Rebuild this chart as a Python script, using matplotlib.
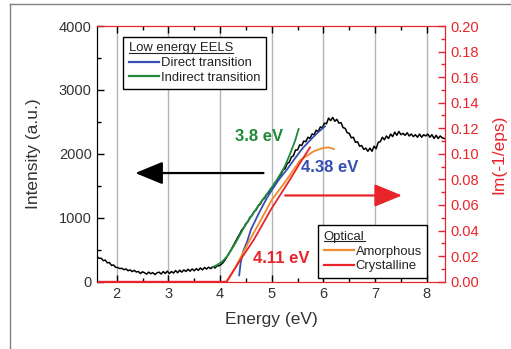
import numpy as np
import matplotlib
matplotlib.use("Agg")
import matplotlib.pyplot as plt
from matplotlib.lines import Line2D

plt.rcParams['font.family'] = ['Liberation Sans', 'DejaVu Sans']

# low-loss EELS spectrum, 0.04 eV steps from 1.62 eV
eels_start, eels_step = 1.62, 0.04
eels_counts = [
    395, 365, 368, 330, 338, 295, 300, 255, 262, 225,
    222, 205, 210, 188, 200, 172, 185, 158, 178, 152,
    160, 128, 155, 140, 118, 150, 125, 142, 112, 138,
    150, 120, 158, 130, 165, 128, 160, 135, 175, 140,
    180, 150, 185, 160, 195, 165, 200, 170, 205, 178,
    215, 185, 222, 198, 228, 205, 235, 215, 245, 250,
    270, 300, 345, 400, 455, 510, 570, 630, 690, 745,
    810, 845, 910, 940, 1010, 1035, 1100, 1125, 1190, 1215,
    1280, 1305, 1365, 1390, 1455, 1480, 1550, 1575, 1640, 1680,
    1750, 1770, 1850, 1870, 1950, 1970, 2060, 2060, 2140, 2130,
    2200, 2190, 2260, 2240, 2310, 2300, 2370, 2350, 2420, 2410,
    2480, 2470, 2560, 2520, 2570, 2510, 2540, 2480, 2490, 2410,
    2400, 2330, 2320, 2250, 2260, 2180, 2190, 2120, 2130, 2070,
    2090, 2040, 2090, 2040, 2120, 2080, 2180, 2190, 2260, 2220,
    2280, 2240, 2310, 2270, 2340, 2290, 2350, 2300, 2320, 2290,
    2330, 2280, 2310, 2270, 2300, 2260, 2310, 2260, 2300, 2280,
    2310, 2260, 2300, 2240, 2290, 2240, 2280, 2250, 2240,
]

# fits to the EELS onset
indirect_e = [3.86, 3.95, 4.05, 4.15, 4.25, 4.35, 4.45, 4.55, 4.65, 4.75,
              4.85, 4.95, 5.05, 5.15, 5.25, 5.35, 5.45, 5.52]
indirect_i = [230, 265, 320, 410, 540, 680, 830, 960, 1080, 1195,
              1310, 1420, 1530, 1660, 1800, 1990, 2200, 2390]
direct_e = [4.37, 4.40, 4.45, 4.52, 4.60, 4.75, 4.90, 5.00, 5.15, 5.30,
            5.45, 5.60, 5.75, 5.90, 6.03]
direct_i = [100, 300, 480, 620, 820, 1070, 1300, 1430, 1610, 1760,
            1930, 2090, 2220, 2340, 2430]

# optical loss function Im(-1/eps)
amorph_e = [4.12, 4.30, 4.58, 4.80, 5.00, 5.26, 5.55, 5.81, 6.00, 6.10, 6.20]
amorph_l = [0.0, 0.0115, 0.033, 0.049, 0.064, 0.078, 0.095, 0.102, 0.1047, 0.105, 0.1038]
cryst_e = [1.62, 4.13, 4.40, 4.65, 5.00, 5.32, 5.55, 5.74]
cryst_l = [0.0, 0.0, 0.0175, 0.0326, 0.0575, 0.0778, 0.093, 0.105]

blue = '#3550b0'
green = '#1f8a3a'
orange = '#f28a2a'
red = '#e8242b'

eels_e = eels_start + eels_step * np.arange(len(eels_counts))

fig = plt.figure(figsize=(5.11, 3.49), dpi=100)
ax = fig.add_axes([0.1904, 0.1928, 0.680, 0.7327])
ax2 = ax.twinx()

ax.plot(eels_e, eels_counts, color='black', lw=1.1, zorder=3)
ax.plot(indirect_e, indirect_i, color=green, lw=1.3, zorder=4)
ax.plot(direct_e, direct_i, color=blue, lw=1.3, zorder=4)
ax2.plot(amorph_e, amorph_l, color=orange, lw=1.3)
ax2.plot(cryst_e, cryst_l, color=red, lw=1.3)

ax.set_xlim(1.625, 8.348)
ax.set_ylim(0, 4000)
ax2.set_ylim(0, 0.2)

ax.set_xticks(np.arange(2, 9, 1))
ax.set_xticks(np.arange(2, 8.5, 0.5), minor=True)
ax.set_yticks(np.arange(0, 4001, 1000))
ax.set_yticks(np.arange(0, 4001, 500), minor=True)
ax2.set_yticks(np.arange(0, 0.201, 0.02))
ax2.set_yticks(np.arange(0, 0.201, 0.01), minor=True)
ax2.set_yticklabels([f"{v:.2f}" for v in np.arange(0, 0.201, 0.02)])

ax.grid(True, axis='x', which='major', color='#b4b4b4', lw=1.0)
ax.set_axisbelow(True)

ax.tick_params(axis='both', which='both', direction='in', labelsize=10.5,
               labelcolor='#333333', top=True)
ax.tick_params(axis='both', which='major', length=5, width=1)
ax.tick_params(axis='both', which='minor', length=3, width=1)
ax.tick_params(axis='x', pad=4)
ax.tick_params(axis='y', pad=4)
ax.tick_params(axis='x', which='both', top=True, color='black')
ax2.tick_params(axis='y', which='both', direction='in', colors=red, labelsize=10.5, pad=4)
ax2.tick_params(axis='y', which='major', length=5, width=1)
ax2.tick_params(axis='y', which='minor', length=3, width=1)

for sp in ['top', 'bottom', 'right']:
    ax2.spines[sp].set_color(red)
    ax.spines[sp].set_color(red)
ax2.spines['left'].set_color('black')
ax.spines['left'].set_color('black')

ax.set_xlabel('Energy (eV)', fontsize=12.5, color='#333333', labelpad=8)
ax.set_ylabel('Intensity (a.u.)', fontsize=12.5, color='#333333', labelpad=13)
ax2.set_ylabel('Im(-1/eps)', fontsize=12.5, color=red, labelpad=9)

ax2.text(4.76, 2279 / 20000, '3.8 eV', color=green, fontsize=12, fontweight='bold',
         ha='center', va='center')
ax2.text(6.12, 1787 / 20000, '4.38 eV', color=blue, fontsize=12, fontweight='bold',
         ha='center', va='center')
ax2.text(5.19, 367 / 20000, '4.11 eV', color=red, fontsize=12, fontweight='bold',
         ha='center', va='center')

ax2.annotate('', xy=(2.36, 1700 / 20000), xytext=(4.84, 1700 / 20000),
             arrowprops=dict(arrowstyle='-|>,head_length=0.85,head_width=0.35',
                             mutation_scale=20, color='black', lw=1.6,
                             shrinkA=0, shrinkB=0))
ax2.annotate('', xy=(7.52, 1349 / 20000), xytext=(5.26, 1349 / 20000),
             arrowprops=dict(arrowstyle='-|>,head_length=0.85,head_width=0.35',
                             mutation_scale=20, color=red, lw=1.6,
                             shrinkA=0, shrinkB=0))

leg_kw = dict(fontsize=9.4, title_fontsize=9.4, frameon=True, fancybox=False,
              edgecolor='black', framealpha=1, handlelength=2.3,
              handletextpad=0.15, labelspacing=0.2, borderpad=0.42,
              borderaxespad=0, alignment='left')
h1 = [Line2D([], [], color=blue, lw=1.6), Line2D([], [], color=green, lw=1.6)]
leg1 = ax2.legend(h1, ['Direct transition', 'Indirect transition'],
                  title='Low energy EELS', loc='upper left',
                  bbox_to_anchor=(0.075, 0.957), **leg_kw)
ax2.add_artist(leg1)
h2 = [Line2D([], [], color=orange, lw=1.6), Line2D([], [], color=red, lw=1.6)]
leg2 = ax2.legend(h2, ['Amorphous', 'Crystalline'], title='Optical',
                  loc='lower left', bbox_to_anchor=(0.636, 0.0155), **leg_kw)
for lg in (leg1, leg2):
    lg.get_frame().set_linewidth(1.0)
    lg.get_title().set_color('#222222')
    for t in lg.get_texts():
        t.set_color('#222222')

# underline legend titles
fig.canvas.draw()
renderer = fig.canvas.get_renderer()
inv = fig.transFigure.inverted()
for lg in (leg1, leg2):
    bb = lg.get_title().get_window_extent(renderer)
    (x0, y0), (x1, _) = inv.transform([(bb.x0, bb.y0 + 1.5), (bb.x1, bb.y0)])
    fig.add_artist(Line2D([x0, x1], [y0, y0], transform=fig.transFigure,
                          color='#222222', lw=0.8))

# outer frame of the figure panel
fig.add_artist(Line2D([10 / 511, 10 / 511], [0, 1 - 4 / 349],
                      transform=fig.transFigure, color='#808080', lw=1))
fig.add_artist(Line2D([10 / 511, 1], [1 - 4 / 349, 1 - 4 / 349],
                      transform=fig.transFigure, color='#808080', lw=1))

fig.savefig('out.png', dpi=100)
